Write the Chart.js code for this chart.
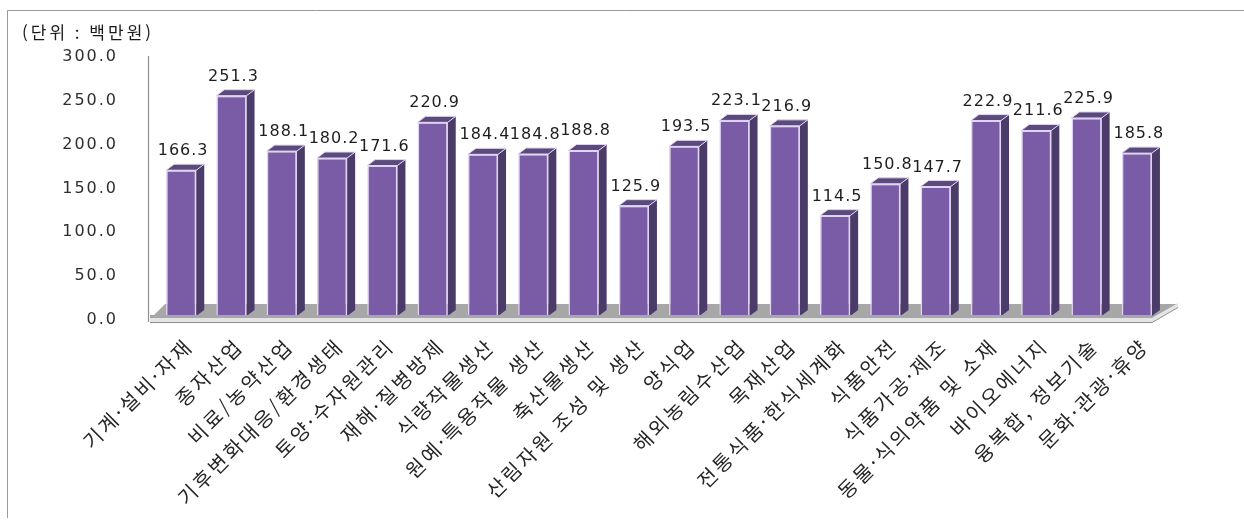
<!DOCTYPE html>
<html lang="ko">
<head>
<meta charset="utf-8">
<title>분야별 과제당 연구비</title>
<script src="https://cdn.jsdelivr.net/npm/chart.js@4/dist/chart.umd.min.js"></script>
<style>
  html, body { margin: 0; padding: 0; background: #ffffff; }
  canvas { display: block; }
</style>
</head>
<body>
<canvas id="chart" width="1244" height="526"></canvas>
<script>
// Research field categories (x axis)
const categories = [
  '기계·설비·자재', '종자산업', '비료/농약산업', '기후변화대응/환경생태',
  '토양·수자원관리', '재해·질병방제', '식량작물생산', '원예·특용작물 생산',
  '축산물생산', '산림자원 조성 및 생산', '양식업', '해외농림수산업',
  '목재산업', '전통식품·한식세계화', '식품안전', '식품가공·제조',
  '동물·식의약품 및 소재', '바이오에너지', '융복합, 정보기술', '문화·관광·휴양'
];

// Amount per field (unit: million won)
const amounts = [
  166.3, 251.3, 188.1, 180.2, 171.6, 220.9, 184.4, 184.8, 188.8, 125.9,
  193.5, 223.1, 216.9, 114.5, 150.8, 147.7, 222.9, 211.6, 225.9, 185.8
];

// Value axis ticks
const yTicks = [0, 50, 100, 150, 200, 250, 300];

const unitLabel = '(단위 : 백만원)';

// Column colours
const FRONT = '#7a5ca6';
const SIDE = '#4b3b68';
const TOP = '#5b4a7c';
const EDGE = '#e2d4f6';

// Depth of the extruded columns
const DX = 8, DY = 6;

// Letter spacing for the value axis labels
const spacing = {
  id: 'spacing',
  beforeUpdate(chart) { chart.ctx.letterSpacing = '2px'; },
  beforeDraw(chart) { chart.ctx.letterSpacing = '2px'; }
};

// Back wall edge, floor, side/top faces of each column, and the texts
const extrude = {
  id: 'extrude',
  beforeDatasetsDraw(chart) {
    const { ctx, chartArea: a } = chart;
    const y0 = chart.scales.y.getPixelForValue(0);
    const yMax = chart.scales.y.getPixelForValue(yTicks[yTicks.length - 1]);
    ctx.save();
    // wall edge
    ctx.strokeStyle = '#8f8f8f';
    ctx.lineWidth = 1.2;
    ctx.beginPath();
    ctx.moveTo(a.left - 7.5, yMax + 3);
    ctx.lineTo(a.left - 7.5, y0 + 6);
    ctx.stroke();
    // floor surface
    ctx.fillStyle = '#a7a7a7';
    ctx.beginPath();
    ctx.moveTo(a.left - 6, y0 + 3);
    ctx.lineTo(a.right - 10, y0 + 3);
    ctx.lineTo(a.right + 16, y0 - 12);
    ctx.lineTo(a.left + 9, y0 - 12);
    ctx.closePath();
    ctx.fill();

    // side and top faces
    const meta = chart.getDatasetMeta(0);
    meta.data.forEach(bar => {
      const l = bar.x - bar.width / 2, r = bar.x + bar.width / 2;
      const t = bar.y, b = bar.base;
      ctx.fillStyle = SIDE;
      ctx.beginPath();
      ctx.moveTo(r, t);
      ctx.lineTo(r + DX, t - DY);
      ctx.lineTo(r + DX, b - DY);
      ctx.lineTo(r, b);
      ctx.closePath();
      ctx.fill();
      ctx.fillStyle = TOP;
      ctx.strokeStyle = EDGE;
      ctx.lineWidth = 1;
      ctx.beginPath();
      ctx.moveTo(l, t);
      ctx.lineTo(l + DX, t - DY);
      ctx.lineTo(r + DX, t - DY);
      ctx.lineTo(r, t);
      ctx.closePath();
      ctx.fill();
      ctx.stroke();
    });
    ctx.restore();
  },
  afterDatasetsDraw(chart) {
    const { ctx, chartArea: a } = chart;
    const y0 = chart.scales.y.getPixelForValue(0);
    ctx.save();
    // front lip of the floor
    ctx.fillStyle = '#a7a7a7';
    ctx.fillRect(a.left - 6, y0 - 1, a.right - a.left - 4, 3);
    ctx.fillStyle = '#e4e4e4';
    ctx.beginPath();
    ctx.moveTo(a.left - 6, y0 + 2);
    ctx.lineTo(a.right - 10, y0 + 2);
    ctx.lineTo(a.right + 16, y0 - 13);
    ctx.lineTo(a.right + 16, y0 - 9);
    ctx.lineTo(a.right - 10, y0 + 6);
    ctx.lineTo(a.left - 6, y0 + 6);
    ctx.closePath();
    ctx.fill();
    ctx.strokeStyle = '#8c8c8c';
    ctx.lineWidth = 1;
    ctx.beginPath();
    ctx.moveTo(a.left - 6, y0 + 6.5);
    ctx.lineTo(a.right - 10, y0 + 6.5);
    ctx.lineTo(a.right + 16, y0 - 8.5);
    ctx.stroke();

    // value labels
    ctx.letterSpacing = '1px';
    ctx.font = '16px "DejaVu Sans"';
    ctx.fillStyle = '#1e1e1e';
    ctx.textAlign = 'center';
    ctx.textBaseline = 'alphabetic';
    const meta = chart.getDatasetMeta(0);
    meta.data.forEach((bar, i) => {
      ctx.fillText(amounts[i].toFixed(1), bar.x + 2, bar.y - 15);
    });
    ctx.restore();
  },
  afterDraw(chart) {
    const { ctx } = chart;
    const xs = chart.scales.x;
    const y0 = chart.scales.y.getPixelForValue(0);
    ctx.save();
    // category labels, slanted at 45 degrees and ending under each column
    ctx.letterSpacing = '3px';
    ctx.font = '20px "Noto Sans CJK KR"';
    ctx.fillStyle = '#262626';
    ctx.textAlign = 'right';
    ctx.textBaseline = 'top';
    categories.forEach((name, i) => {
      ctx.save();
      ctx.translate(xs.getPixelForTick(i) + 1, y0 + 19);
      ctx.rotate(-Math.PI / 4);
      ctx.fillText(name, 0, 0);
      ctx.restore();
    });

    // outer frame
    ctx.strokeStyle = '#9a9a9a';
    ctx.lineWidth = 1;
    ctx.beginPath();
    ctx.moveTo(7.5, 518);
    ctx.lineTo(7.5, 10.5);
    ctx.lineTo(1244, 10.5);
    ctx.stroke();
    // unit caption
    ctx.letterSpacing = '3px';
    ctx.font = '17px "Noto Sans CJK KR"';
    ctx.fillStyle = '#1a1a1a';
    ctx.textAlign = 'left';
    ctx.textBaseline = 'middle';
    ctx.fillText(unitLabel, 22, 33);
    ctx.restore();
  }
};

new Chart(document.getElementById('chart'), {
  type: 'bar',
  data: {
    labels: categories,
    datasets: [{
      data: amounts,
      backgroundColor: FRONT,
      borderColor: EDGE,
      borderWidth: 1.5,
      categoryPercentage: 1,
      barPercentage: 0.6
    }]
  },
  options: {
    responsive: false,
    animation: false,
    layout: { padding: { top: 53, right: 82, bottom: 0, left: 0 } },
    plugins: {
      legend: { display: false },
      tooltip: { enabled: false }
    },
    scales: {
      x: {
        grid: { display: false, drawTicks: false },
        border: { display: false },
        ticks: { display: false },
        afterFit(scale) { scale.height = 210; }
      },
      y: {
        min: yTicks[0],
        max: yTicks[yTicks.length - 1],
        grid: { display: false, drawTicks: false },
        border: { display: false },
        afterBuildTicks(scale) { scale.ticks = yTicks.map(v => ({ value: v })); },
        ticks: {
          padding: 38,
          labelOffset: 4,
          color: '#2e2e2e',
          font: { family: '"DejaVu Sans"', size: 16 },
          callback: v => Number(v).toFixed(1)
        },
        afterFit(scale) { scale.width = 156; }
      }
    }
  },
  plugins: [spacing, extrude]
});
</script>
</body>
</html>
